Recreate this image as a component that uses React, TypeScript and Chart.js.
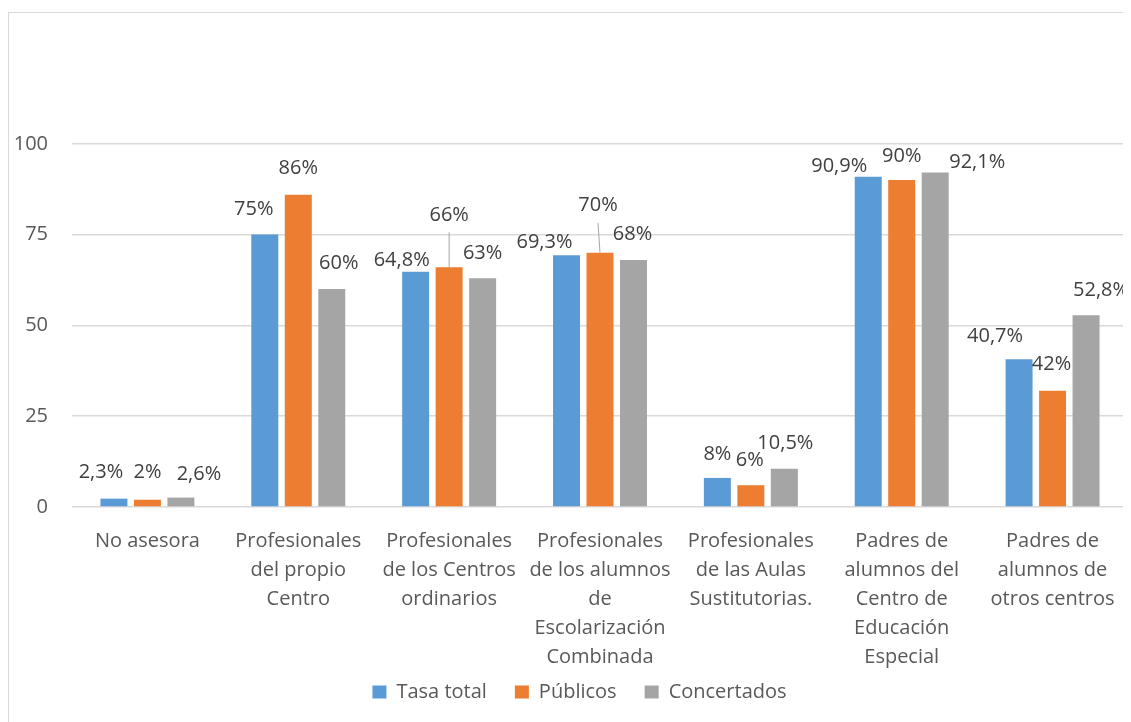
import React, { useEffect, useRef } from "react";
import { Chart, registerables } from "chart.js";

Chart.register(...registerables);

const categories: string[][] = [
  ["No asesora"],
  ["Profesionales", "del propio", "Centro"],
  ["Profesionales", "de los Centros", "ordinarios"],
  ["Profesionales", "de los alumnos", "de", "Escolarización", "Combinada"],
  ["Profesionales", "de las Aulas", "Sustitutorias."],
  ["Padres de", "alumnos del", "Centro de", "Educación", "Especial"],
  ["Padres de", "alumnos de", "otros centros"],
];

const seriesNames = ["Tasa total", "Públicos", "Concertados"];

const tasaTotal = [2.3, 75, 64.8, 69.3, 8, 90.9, 40.7];
const publicos = [2, 86, 66, 70, 6, 90, 32];
const concertados = [2.6, 60, 63, 68, 10.5, 92.1, 52.8];

const tasaTotalLabels = ["2,3%", "75%", "64,8%", "69,3%", "8%", "90,9%", "40,7%"];
const publicosLabels = ["2%", "86%", "66%", "70%", "6%", "90%", "42%"];
const concertadosLabels = ["2,6%", "60%", "63%", "68%", "10,5%", "92,1%", "52,8%"];

const yTicks = [0, 25, 50, 75, 100];

// label placement (layout only): [dx, dy] of label centre relative to bar top centre
const labelOffsets: number[][][] = [
  [[-13, -26], [-11, -25], [-14, -11], [-22, -13], [0, -24], [-29, -11], [-24, -23]],
  [[0, -27], [0, -26], [0, -52], [-2, -47], [-1, -25], [0, -24], [-1, -26]],
  [[18, -23], [7, -26], [0, -25], [-1, -26], [1, -26], [42, -10], [15, -25]],
];
const leaderLines: number[][] = [
  [1, 2],
  [1, 3],
];

const colors = ["#5b9bd5", "#ed7d31", "#a5a5a5"];
const FONT = "'Open Sans', sans-serif";

export default function App() {
  const ref = useRef<HTMLCanvasElement | null>(null);

  useEffect(() => {
    document.documentElement.style.overflow = "hidden";
    const canvas = ref.current;
    if (!canvas) return;
    const allLabels = [tasaTotalLabels, publicosLabels, concertadosLabels];

    const labelPlugin = {
      id: "barLabels",
      afterDatasetsDraw(chart: any) {
        const ctx = chart.ctx;
        ctx.save();
        ctx.font = `20px ${FONT}`;
        ctx.fillStyle = "#404040";
        ctx.textAlign = "center";
        ctx.textBaseline = "middle";
        chart.data.datasets.forEach((_ds: any, di: number) => {
          const meta = chart.getDatasetMeta(di);
          meta.data.forEach((el: any, i: number) => {
            const [dx, dy] = labelOffsets[di][i];
            const lx = el.x + dx;
            const ly = el.y + dy;
            ctx.fillText(allLabels[di][i], lx, ly);
            if (leaderLines.some(([d, idx]) => d === di && idx === i)) {
              ctx.save();
              ctx.strokeStyle = "#a6a6a6";
              ctx.lineWidth = 1;
              ctx.beginPath();
              ctx.moveTo(lx, ly + 17);
              ctx.lineTo(el.x, el.y);
              ctx.stroke();
              ctx.restore();
            }
          });
        });
        ctx.restore();
      },
    };

    const legendPlace = {
      id: "legendPlace",
      afterLayout(chart: any) {
        const lg = chart.legend;
        if (!lg) return;
        const h = lg.height;
        lg.top = 641;
        lg.bottom = 641 + h;
        lg.left += 11;
        lg.right += 11;
      },
    };

    const chart = new Chart(canvas, {
      type: "bar",
      data: {
        labels: categories,
        datasets: [tasaTotal, publicos, concertados].map((d, i) => ({
          label: seriesNames[i],
          data: d,
          backgroundColor: colors[i],
          borderWidth: 0,
          categoryPercentage: 0.666,
          barPercentage: 0.806,
        })),
      },
      options: {
        responsive: false,
        animation: false,
        layout: { padding: { top: 40, left: 0, right: 16, bottom: 3 } },
        plugins: {
          tooltip: { enabled: false },
          legend: {
            position: "bottom",
            labels: {
              boxWidth: 14,
              boxHeight: 13,
              padding: 28,
              color: "#595959",
              font: { family: FONT, size: 20 },
            },
          },
        },
        scales: {
          x: {
            grid: { display: false },
            border: { display: false },
            ticks: {
              autoSkip: false,
              maxRotation: 0,
              minRotation: 0,
              padding: 12,
              color: "#595959",
              font: { family: FONT, size: 20, lineHeight: 1.45 },
            },
            afterFit(scale: any) {
              scale.height = 165;
            },
          },
          y: {
            min: 0,
            max: 125,
            border: { display: false },
            grid: {
              color: (c: any) => (c.tick && c.tick.value > 100 ? "rgba(0,0,0,0)" : "#d9d9d9"),
              lineWidth: 1.5,
              drawTicks: false,
            },
            afterBuildTicks(scale: any) {
              scale.ticks = [...yTicks, 125].map((v) => ({ value: v }));
            },
            ticks: {
              padding: 24,
              color: "#595959",
              font: { family: FONT, size: 20 },
              callback: (v: any) => (yTicks.includes(Number(v)) ? String(v) : ""),
            },
            afterFit(scale: any) {
              scale.width = 63;
            },
          },
        },
      },
      plugins: [labelPlugin, legendPlace],
    });
    return () => chart.destroy();
  }, []);

  return (
    <div
      style={{
        marginTop: 4,
        width: 1135,
        height: 720,
        border: "1px solid #d9d9d9",
        background: "#fff",
      }}
    >
      <canvas ref={ref} width={1135} height={720} style={{ display: "block", width: 1135, height: 720 }} />
    </div>
  );
}
